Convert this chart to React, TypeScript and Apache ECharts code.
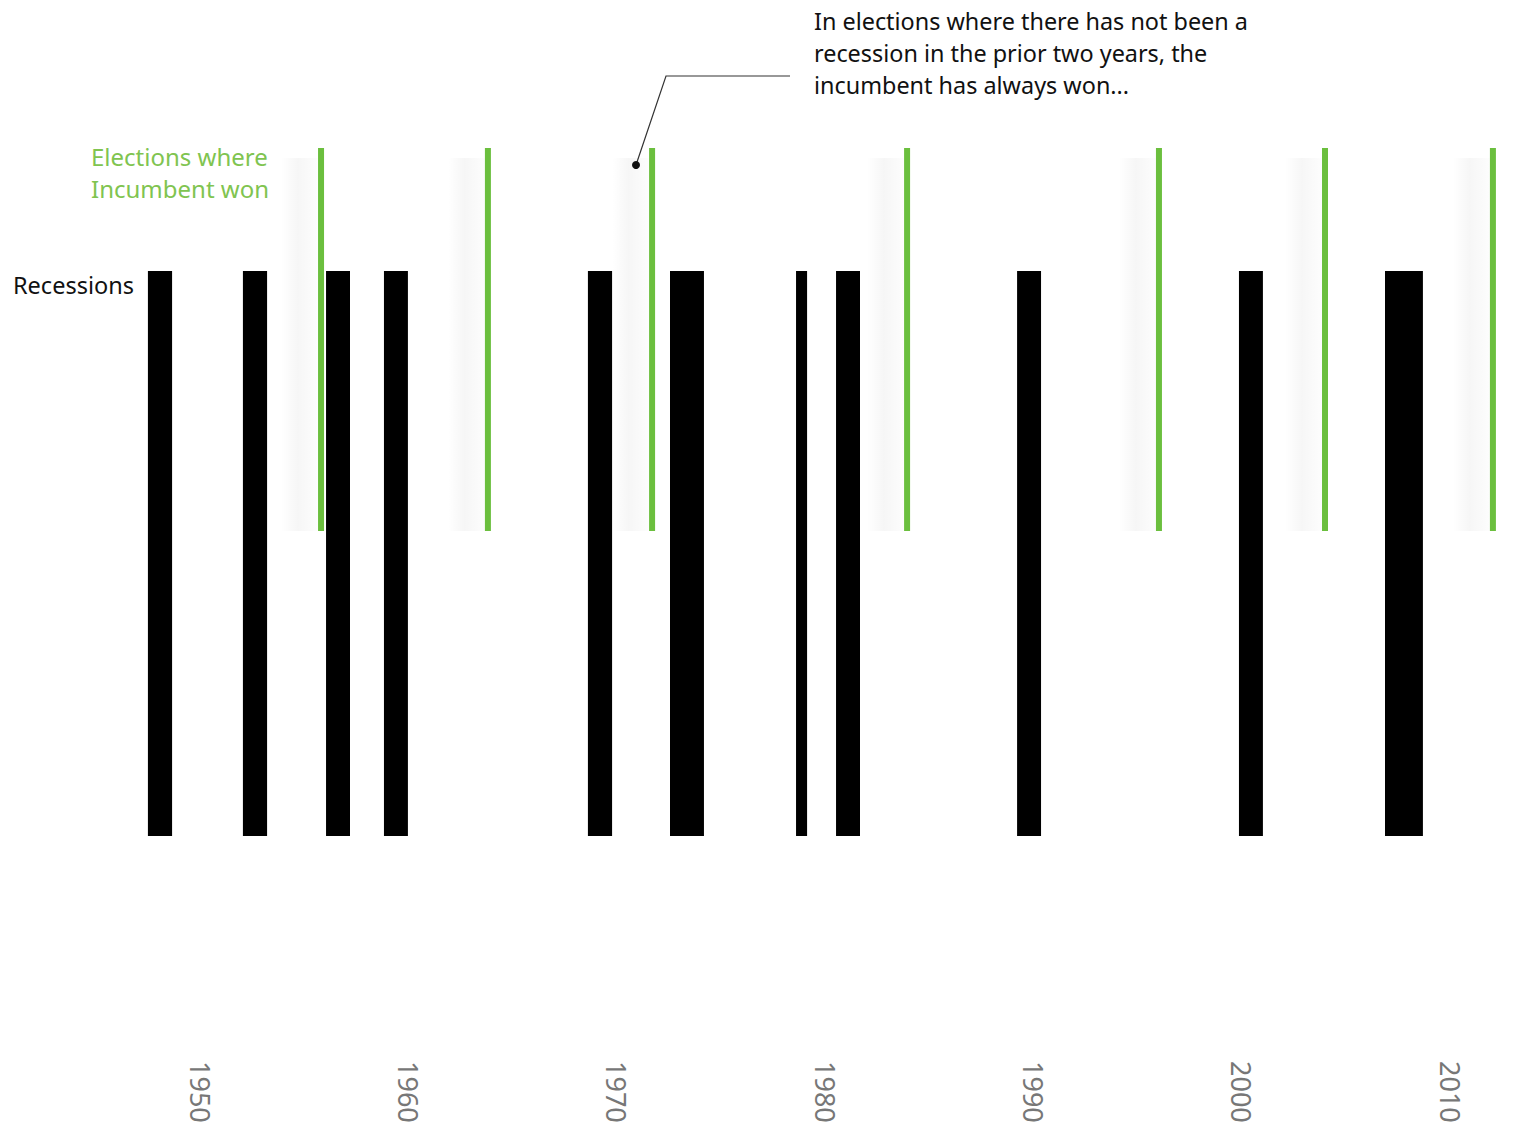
import React, { useEffect, useRef } from "react";
import * as echarts from "echarts";

// Recession periods [start, end] in axis years
const recessionStarts = [1947.5, 1952.06, 1956.05, 1958.83, 1968.62, 1972.56, 1978.61, 1980.53, 1989.22, 1999.87, 2006.88];
const recessionEnds = [1948.66, 1953.22, 1957.2, 1959.98, 1969.78, 1974.19, 1979.14, 1981.68, 1990.37, 2001.02, 2008.7];
// Elections where the incumbent won (axis years)
const incumbentWins = [1955.81, 1963.82, 1971.7, 1983.94, 1996.03, 2004.0, 2012.06];
// Tick labels
const yearTicks = [1950, 1960, 1970, 1980, 1990, 2000, 2010];

const FONT = "'Noto Sans', sans-serif";

export default function App() {
  const ref = useRef<HTMLDivElement>(null);
  useEffect(() => {
    if (!ref.current) return;
    const chart = echarts.init(ref.current, null, { renderer: "svg" });
    const REC_TOP = 271, REC_BOT = 836, EL_TOP = 148, EL_BOT = 531;
    const recData = recessionStarts.map((s, i) => [s, recessionEnds[i]]);
    const elData = incumbentWins.map((y) => [y]);
    chart.setOption({
      animation: false,
      backgroundColor: "#ffffff",
      grid: { left: 0, right: 0, top: 0, bottom: 80 },
      xAxis: {
        type: "value",
        min: 1940.4,
        max: 2013.504,
        axisLine: { show: false },
        axisTick: { show: false },
        splitLine: { show: false },
        axisLabel: {
          customValues: yearTicks,
          formatter: (v: number) => String(v),
          rotate: -90,
          margin: 11,
          color: "#777777",
          fontSize: 27,
          fontFamily: FONT,
        },
      },
      yAxis: { type: "value", min: 0, max: 1050, inverse: true, show: false },
      series: [
        {
          type: "custom",
          name: "shade",
          data: elData,
          encode: { x: 0 },
          silent: true,
          renderItem: (params: any, api: any) => {
            const p1 = api.coord([api.value(0), EL_TOP]);
            const p2 = api.coord([api.value(0), EL_BOT]);
            return {
              type: "rect",
              shape: { x: p1[0] - 40, y: p1[1] + 10, width: 37, height: p2[1] - p1[1] - 10 },
              style: {
                fill: new echarts.graphic.LinearGradient(0, 0, 1, 0, [
                  { offset: 0, color: "rgba(0,0,0,0)" },
                  { offset: 0.45, color: "rgba(0,0,0,0.035)" },
                  { offset: 1, color: "rgba(0,0,0,0.008)" },
                ]),
              },
            };
          },
        },
        {
          type: "custom",
          name: "Recessions",
          data: recData,
          encode: { x: [0, 1] },
          renderItem: (params: any, api: any) => {
            const p1 = api.coord([api.value(0), REC_TOP]);
            const p2 = api.coord([api.value(1), REC_BOT]);
            return {
              type: "rect",
              shape: { x: p1[0], y: p1[1], width: p2[0] - p1[0], height: p2[1] - p1[1] },
              style: { fill: "#000000" },
            };
          },
        },
        {
          type: "custom",
          name: "Elections where incumbent won",
          data: elData,
          encode: { x: 0 },
          renderItem: (params: any, api: any) => {
            const p1 = api.coord([api.value(0), EL_TOP]);
            const p2 = api.coord([api.value(0), EL_BOT]);
            return {
              type: "rect",
              shape: { x: p1[0] - 3, y: p1[1], width: 6, height: p2[1] - p1[1] },
              style: { fill: "#6bbf3e" },
            };
          },
        },
      ],
      graphic: [
        {
          type: "text",
          right: 1523 - 269,
          top: 140,
          style: {
            text: "Elections where\nIncumbent won",
            fill: "#80c450",
            font: `24px ${FONT}`,
            lineHeight: 32,
            align: "right",
          },
        },
        {
          type: "text",
          left: 13,
          top: 273,
          style: { text: "Recessions", fill: "#111111", font: `23.5px ${FONT}` },
        },
        {
          type: "text",
          left: 814,
          top: 5,
          style: {
            text: "In elections where there has not been a\nrecession in the prior two years, the\nincumbent has always won...",
            fill: "#111111",
            font: `23.4px ${FONT}`,
            lineHeight: 32,
          },
        },
        {
          type: "polyline",
          shape: { points: [[790, 76], [666, 76], [636, 165]] },
          style: { stroke: "#333333", lineWidth: 1.2, fill: "none" },
        },
        {
          type: "circle",
          shape: { cx: 636, cy: 165, r: 4 },
          style: { fill: "#111111" },
        },
      ],
    });
    return () => chart.dispose();
  }, []);
  return <div ref={ref} style={{ position: "fixed", left: 0, top: 0, width: 1523, height: 1130 }} />;
}
